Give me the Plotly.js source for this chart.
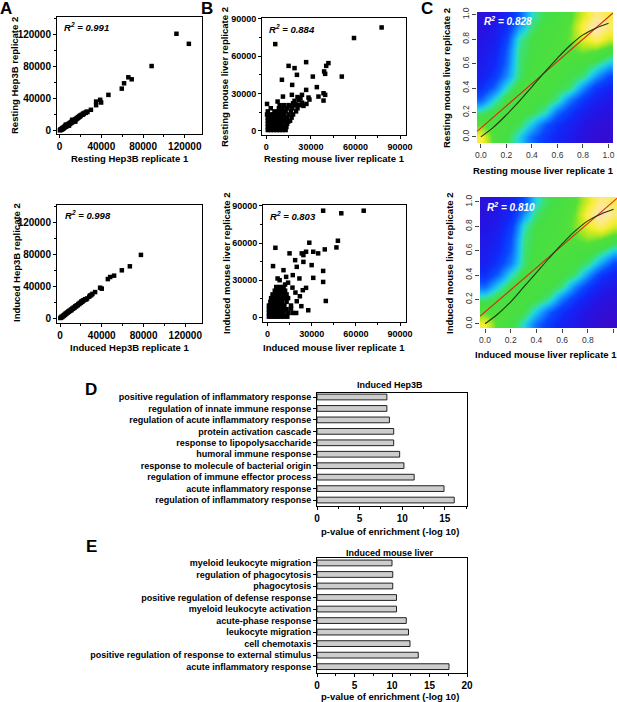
<!DOCTYPE html>
<html>
<head>
<meta charset="utf-8">
<script src="https://cdn.plot.ly/plotly-3.0.1.min.js"></script>
<style>
  body { margin: 0; background: #fff; }
  #chart { width: 617px; height: 702px; }
</style>
</head>
<body>
<div id="chart"></div>
<script>
// ---- values ----

// A: Hep3B replicate scatter (x = replicate 1, y = replicate 2)
var hepRestPts = [
  [112000,121000],[123900,108400],[88200,80600],[65900,66500],[69100,64000],[61800,59000],
  [59600,52300],[46800,44500],[38900,38300],[39800,34900],[35000,36100],[35000,31600],[30000,25800],
  [300,200],[800,1200],[1200,500],[1500,1800],[2000,1100],[2500,2600],[3000,1800],[3300,3500],
  [4000,2700],[4300,4500],[5000,3800],[5300,5600],[6000,4600],[6000,7300],[6600,6200],[7000,5400],
  [7600,7200],[8000,6300],[8600,8200],[9000,7400],[9000,6000],[9600,9100],[10000,8300],[10600,10000],
  [11000,9200],[11600,11000],[12000,10000],[12000,13300],[12600,11800],[13000,11000],[13600,12600],
  [14000,12000],[14600,13500],[15000,13000],[15000,11000],[15600,14500],[16000,14000],[16600,15500],
  [17000,15000],[17600,16500],[18000,16000],[18600,17500],[19000,17000],[19600,18500],[20000,18000],
  [21000,19600],[22000,19500],[22500,21000],[23000,20500],[24000,22000],[25000,22000],[26000,23500],[26700,23000]
];
var hepIndPts = [
  [77500,79300],[66900,65000],[59200,60000],[51800,53300],[48000,51600],[45800,49000],
  [38400,38200],[40000,37000],[33600,32700],[31000,30500],[30000,29000],[28800,28500],[28000,27000],
  [300,300],[1000,600],[1500,1800],[2200,1500],[2800,3000],[3500,2800],[4000,4200],[4800,4200],
  [5200,5600],[6000,5500],[6500,6800],[7200,6800],[7800,8200],[8500,8000],[9000,9300],[9800,9200],
  [10500,10800],[11000,10200],[11800,12000],[12500,11800],[13000,13200],[14000,13300],[14500,14800],
  [15500,14800],[16000,16200],[17000,16300],[17500,17800],[18500,17800],[19000,19200],[20000,19300],
  [20500,21000],[21500,20800],[22000,22300],[23000,22500],[24000,23800],[25000,23500],[26000,24800]
];

// B: mouse liver replicate scatter
var livRestPts = [
  [77600,83000],[59000,74500],[6000,69600],[41800,54300],[40300,52100],[38900,47600],[39600,45700],
  [26800,55100],[15000,52100],[19000,50300],[20600,44900],[50800,43500],[31300,43500],[10500,40900],
  [34000,35000],[26800,32800],[17400,36800],[17200,28800],[24000,28800],[38500,30100],[39600,28800],
  [38500,24200],[35100,27400],[28400,26600],[25000,19900],[11200,27400],[7600,23400],[500,21500],
  [22000,24500],[29000,25000],[21000,27000],[27000,21500],[24000,22500],[19000,24000],[20000,21000],
  [23000,26000],[18000,22000],[16000,19500],[14800,7300],
  [1000,500],[3000,500],[5000,500],[7000,500],[9000,500],[11000,500],[13000,500],
  [1000,3000],[3000,3000],[5000,3000],[7000,3000],[9000,3000],[11000,3000],[13500,3000],
  [1000,5500],[3000,5500],[5000,5500],[7000,5500],[9000,5500],[11000,5500],[14000,5500],
  [1000,8000],[3000,8000],[5000,8000],[7000,8000],[9000,8000],[11000,8000],[13000,8000],[16000,8000],
  [1000,10500],[3000,10500],[5000,10500],[7000,10500],[9000,10500],[11500,10500],[14000,10500],[17000,10500],
  [500,13000],[2500,13000],[4500,13000],[7000,13000],[9500,13000],[12000,13000],[15000,13000],[18000,13000],
  [1000,15500],[5500,15500],[8000,15500],[10500,15500],[13000,15500],[16500,15500],[20000,15500],
  [3000,18000],[8500,18000],[11000,18000],[14000,18000],[17500,18000],[21000,18000],
  [9000,20500],[12000,20500],[15000,20500],[19000,20500],[22500,20500]
];
var livIndPts = [
  [37800,86200],[50100,84100],[65300,86200],[47800,61900],[46800,56500],[38900,54900],[28400,60300],
  [31100,53000],[34400,51700],[26200,53000],[23300,51700],[24400,50300],[15000,51700],[5400,56200],
  [3800,41400],[18800,46200],[24400,44800],[19900,40800],[30000,42200],[31100,31900],[37800,28600],
  [37800,37500],[21700,31400],[26200,23800],[24000,21900],[17200,34100],[12700,32700],[10900,38100],
  [19900,13000],[39600,13200],[27700,5700],[8300,30000],[6900,31400],[17000,24000],[14000,28000],
  [12000,26500],[19000,20000],[22000,17000],[16000,7000],[19500,3500],[23000,9000],
  [1000,500],[3000,500],[5000,500],[7000,500],[9000,500],[11000,500],[13500,500],
  [1000,3500],[3000,3500],[5000,3500],[7000,3500],[9000,3500],[11000,3500],[14000,3500],[17000,3500],
  [1000,6500],[3000,6500],[5000,6500],[7000,6500],[9000,6500],[11000,6500],[13000,6500],
  [1000,9500],[3000,9500],[5000,9500],[7000,9500],[9000,9500],[11500,9500],[16000,9500],
  [2000,12500],[4000,12500],[6000,12500],[8000,12500],[10000,12500],[13000,12500],
  [2500,15500],[5000,15500],[7000,15500],[9000,15500],[11500,15500],[14000,15500],
  [3500,18500],[6000,18500],[8000,18500],[10500,18500],[13000,18500],
  [5000,21500],[7500,21500],[9500,21500],[12000,21500],
  [6000,24500],[8500,24500],[11000,24500]
];

// C: smoothed density (rows: y = 0 .. 1, columns: x = 0 .. 1)
var densGrid = [0, 0.1, 0.2, 0.3, 0.4, 0.5, 0.6, 0.7, 0.8, 0.9, 1.0];
var cRestDensity = [
  [8.0, 6.0, 5.4, 4.4, 3.2, 2.4, 1.8, 1.3, 0.8, 0.4, 0.3],
  [6.3, 6.0, 5.7, 5.2, 4.2, 3.0, 2.2, 1.6, 1.0, 0.6, 0.5],
  [4.9, 5.5, 5.8, 5.6, 5.3, 4.7, 3.3, 2.4, 1.6, 1.0, 0.8],
  [3.2, 4.5, 5.5, 5.8, 5.7, 5.4, 4.8, 3.4, 2.4, 1.6, 1.2],
  [2.2, 3.2, 4.6, 5.6, 5.9, 5.7, 5.4, 5.0, 3.6, 2.4, 1.8],
  [1.6, 2.4, 3.6, 5.0, 5.8, 5.9, 5.7, 5.4, 5.0, 3.8, 2.8],
  [1.4, 2.0, 3.2, 5.0, 5.6, 5.9, 5.9, 5.7, 5.5, 5.0, 4.2],
  [1.2, 1.7, 3.0, 4.9, 5.5, 5.8, 6.0, 6.2, 6.6, 6.3, 5.6],
  [1.0, 1.4, 2.6, 4.7, 5.4, 5.7, 5.9, 6.5, 7.6, 8.3, 7.4],
  [0.8, 1.2, 2.1, 3.8, 5.0, 5.6, 5.8, 6.4, 8.1, 9.3, 8.4],
  [0.7, 1.0, 1.7, 3.0, 4.6, 5.3, 5.6, 6.1, 7.4, 8.6, 8.0]
];
var cIndDensity = [
  [7.8, 6.0, 5.5, 4.5, 3.3, 2.4, 1.7, 1.2, 0.7, 0.3, 0.2],
  [6.2, 6.0, 5.8, 5.3, 4.3, 3.1, 2.2, 1.5, 0.9, 0.5, 0.4],
  [5.0, 5.5, 5.8, 5.7, 5.4, 4.8, 3.4, 2.4, 1.5, 0.9, 0.7],
  [3.3, 4.5, 5.5, 5.8, 5.8, 5.5, 4.9, 3.5, 2.4, 1.5, 1.1],
  [2.2, 3.2, 4.6, 5.6, 5.9, 5.8, 5.5, 5.0, 3.7, 2.4, 1.7],
  [1.6, 2.4, 3.5, 5.0, 5.8, 5.9, 5.7, 5.5, 5.0, 3.9, 2.8],
  [1.4, 2.0, 3.1, 5.0, 5.6, 5.9, 5.9, 5.7, 5.6, 5.1, 4.3],
  [1.2, 1.7, 2.9, 4.9, 5.5, 5.8, 6.0, 6.3, 6.7, 6.4, 5.7],
  [1.0, 1.4, 2.5, 4.6, 5.4, 5.7, 5.9, 6.6, 7.7, 8.4, 7.5],
  [0.8, 1.2, 2.0, 3.7, 5.0, 5.6, 5.8, 6.5, 8.2, 9.3, 8.5],
  [0.7, 1.0, 1.6, 2.9, 4.5, 5.3, 5.6, 6.2, 7.5, 8.7, 8.1]
];
var cRestFitX = [-0.03, 1.035];
var cRestFitY = [0.045, 1.014];
var cRestCurveX = [0, 0.1, 0.2, 0.3, 0.4, 0.5, 0.6, 0.7, 0.8, 0.9, 1.0];
var cRestCurveY = [0.0, 0.08, 0.18, 0.29, 0.41, 0.53, 0.645, 0.75, 0.835, 0.89, 0.93];
var cIndFitX = [-0.04, 1.027];
var cIndFitY = [0.06, 1.03];
var cIndCurveX = [0, 0.1, 0.2, 0.3, 0.4, 0.5, 0.6, 0.7, 0.8, 0.9, 1.0];
var cIndCurveY = [0.0, 0.08, 0.18, 0.30, 0.42, 0.54, 0.655, 0.76, 0.845, 0.90, 0.94];

// D / E: GO enrichment, listed top to bottom
var hepTerms = ['positive regulation of inflammatory response', 'regulation of innate immune response',
  'regulation of acute inflammatory response', 'protein activation cascade', 'response to lipopolysaccharide',
  'humoral immune response', 'response to molecule of bacterial origin', 'regulation of immune effector process',
  'acute inflammatory response', 'regulation of inflammatory response'];
var hepScores = [8.2, 8.2, 8.5, 9.0, 9.0, 9.7, 10.2, 11.4, 14.9, 16.1];
var livTerms = ['myeloid leukocyte migration', 'regulation of phagocytosis', 'phagocytosis',
  'positive regulation of defense response', 'myeloid leukocyte activation', 'acute-phase response',
  'leukocyte migration', 'cell chemotaxis', 'positive regulation of response to external stimulus',
  'acute inflammatory response'];
var livScores = [10.0, 10.1, 10.1, 10.6, 10.6, 11.9, 12.2, 12.4, 13.5, 17.6];

// ---- layout helpers ----
var W = 617, H = 702;
var FONT = 'Liberation Sans, Arial, sans-serif';
function fx(p) { return p / W; }
function fy(p) { return 1 - p / H; }
function xs(pts) { return pts.map(function (p) { return p[0]; }); }
function ys(pts) { return pts.map(function (p) { return p[1]; }); }

function originAxis(dom, range, dtick, anchor, size) {
  return {
    domain: dom, range: range, anchor: anchor, dtick: dtick, tick0: 0, tickformat: 'd',
    showgrid: false, zeroline: false, showline: true, mirror: true, linecolor: '#000', linewidth: 1,
    ticks: 'outside', ticklen: 3, tickwidth: 1, tickcolor: '#000',
    tickfont: {family: FONT, size: size, weight: 'bold', color: '#000'},
    minor: {dtick: dtick / 2, ticks: 'outside', ticklen: 2, tickcolor: '#000'}
  };
}
function rAxis(dom, range, anchor, angle) {
  return {
    domain: dom, range: range, anchor: anchor, dtick: 0.2, tick0: 0, tickformat: '.1f',
    showgrid: false, zeroline: false, showline: false,
    ticks: 'outside', ticklen: 4, tickcolor: '#444', tickangle: angle,
    tickfont: {family: FONT, size: 8.5, color: '#333'}
  };
}
function goXAxis(dom, range, anchor) {
  return {
    domain: dom, range: range, anchor: anchor, dtick: 5, tick0: 0,
    showgrid: false, zeroline: false, showline: true, mirror: true, linecolor: '#000', linewidth: 1,
    ticks: 'outside', ticklen: 3, tickcolor: '#000',
    tickfont: {family: FONT, size: 10, weight: 'bold', color: '#000'},
    minor: {dtick: 2.5, ticks: 'outside', ticklen: 2, tickcolor: '#000'}
  };
}
function goYAxis(dom, range, anchor) {
  return {
    domain: dom, range: range, anchor: anchor, type: 'category',
    showgrid: false, zeroline: false, showline: true, mirror: true, linecolor: '#000', linewidth: 1,
    ticks: 'outside', ticklen: 3, tickcolor: '#000',
    tickfont: {family: FONT, size: 9, weight: 'bold', color: '#000'}
  };
}

function dots(pts, xa, ya) {
  return {type: 'scatter', mode: 'markers', x: xs(pts), y: ys(pts), xaxis: xa, yaxis: ya,
    marker: {symbol: 'square', size: 4.5, color: '#000'}, hoverinfo: 'skip'};
}

var densColors = [
  [0.00, '#3C08C8'], [0.10, '#2414E4'], [0.20, '#1028F8'], [0.28, '#0848FF'],
  [0.35, '#1080FF'], [0.41, '#18B8F4'], [0.46, '#28DCC8'], [0.50, '#3CE070'],
  [0.54, '#44DE44'], [0.63, '#52E03A'], [0.70, '#B0E820'], [0.78, '#F4EE30'],
  [0.88, '#FFE898'], [1.00, '#FFD4C0']
];
function density(z, xa, ya) {
  return {type: 'heatmap', x: densGrid, y: densGrid, z: z, zmin: 0, zmax: 10, zsmooth: 'best',
    colorscale: densColors, showscale: false, xaxis: xa, yaxis: ya, hoverinfo: 'skip'};
}
function line(x, y, color, xa, ya, shape) {
  return {type: 'scatter', mode: 'lines', x: x, y: y, xaxis: xa, yaxis: ya,
    line: {color: color, width: 1.1, shape: shape}, hoverinfo: 'skip'};
}
function goBars(terms, scores, xa, ya) {
  return {type: 'bar', orientation: 'h', x: scores, y: terms, xaxis: xa, yaxis: ya, width: 0.5,
    marker: {color: '#CDCDCD', line: {color: '#222', width: 1}}, hoverinfo: 'skip'};
}

var traces = [
  dots(hepRestPts, 'x', 'y'),
  dots(hepIndPts, 'x2', 'y2'),
  dots(livRestPts, 'x3', 'y3'),
  dots(livIndPts, 'x4', 'y4'),
  density(cRestDensity, 'x5', 'y5'),
  line(cRestFitX, cRestFitY, '#D42A1A', 'x5', 'y5', 'linear'),
  line(cRestCurveX, cRestCurveY, '#1E3414', 'x5', 'y5', 'spline'),
  density(cIndDensity, 'x6', 'y6'),
  line(cIndFitX, cIndFitY, '#D42A1A', 'x6', 'y6', 'linear'),
  line(cIndCurveX, cIndCurveY, '#1E3414', 'x6', 'y6', 'spline'),
  goBars(hepTerms, hepScores, 'x7', 'y7'),
  goBars(livTerms, livScores, 'x8', 'y8')
];

function note(text, x, y, size, opts) {
  var a = {text: text, xref: 'paper', yref: 'paper', x: fx(x), y: fy(y), showarrow: false,
    xanchor: 'center', yanchor: 'middle',
    font: {family: FONT, size: size, weight: 'bold', color: '#000'}};
  for (var k in opts) { a[k] = opts[k]; }
  return a;
}
var white = {family: FONT, size: 10, weight: 'bold', color: '#fff'};
var up = {textangle: -90};

var annotations = [
  note('A', 6, 9, 17), note('B', 207, 9, 17), note('C', 427, 9, 17),
  note('D', 91, 389, 17), note('E', 91, 546, 17),
  note('<i>R<sup>2</sup> = 0.991</i>', 62, 27, 9.5, {xanchor: 'left'}),
  note('<i>R<sup>2</sup> = 0.998</i>', 63, 215, 9.5, {xanchor: 'left'}),
  note('<i>R<sup>2</sup> = 0.884</i>', 267, 29, 9.5, {xanchor: 'left'}),
  note('<i>R<sup>2</sup> = 0.803</i>', 268, 216, 9.5, {xanchor: 'left'}),
  note('<i>R<sup>2</sup> = 0.828</i>', 482, 21, 10, {xanchor: 'left', font: white}),
  note('<i>R<sup>2</sup> = 0.810</i>', 485, 207, 10, {xanchor: 'left', font: white}),
  note('Resting Hep3B replicate 1', 130, 159, 9.5),
  note('Induced Hep3B replicate 1', 130, 347, 9.5),
  note('Resting mouse liver replicate 1', 334, 159, 9.5),
  note('Induced mouse liver replicate 1', 334, 347, 9.5),
  note('Resting mouse liver replicate 1', 543, 170, 9.5),
  note('Induced mouse liver replicate 1', 546, 354, 9.5),
  note('Resting Hep3B replicate 2', 15, 76, 9.5, up),
  note('Induced Hep3B replicate 2', 16, 263, 9.5, up),
  note('Resting mouse liver replicate 2', 224, 77, 9.5, up),
  note('Induced mouse liver replicate 2', 226, 263, 9.5, up),
  note('Resting mouse liver replicate 2', 446, 78, 9.5, up),
  note('Induced mouse liver replicate 2', 449, 263, 9.5, up),
  note('Induced Hep3B', 390, 385, 9),
  note('p-value of enrichment (-log 10)', 390, 531, 9.5),
  note('Induced mouse liver', 390, 553, 9),
  note('p-value of enrichment (-log 10)', 390, 696, 9.5)
];

var layout = {
  width: W, height: H, margin: {l: 0, r: 0, t: 0, b: 0},
  paper_bgcolor: '#fff', plot_bgcolor: '#fff', showlegend: false,
  font: {family: FONT, color: '#000'},
  xaxis: originAxis([fx(57), fx(202)], [-2500, 136500], 40000, 'y', 10),
  yaxis: originAxis([fy(134), fy(17)], [-4500, 142000], 40000, 'x', 10),
  xaxis2: originAxis([fx(57), fx(202)], [-2900, 136000], 40000, 'y2', 10),
  yaxis2: originAxis([fy(323), fy(205)], [-6000, 141800], 40000, 'x2', 10),
  xaxis3: originAxis([fx(262), fx(406)], [-2900, 94000], 30000, 'y3', 9),
  yaxis3: originAxis([fy(135), fy(18)], [-3500, 90600], 30000, 'x3', 9),
  xaxis4: originAxis([fx(263), fx(406)], [-3000, 94000], 30000, 'y4', 9),
  yaxis4: originAxis([fy(322), fy(205)], [-3800, 90800], 30000, 'x4', 9),
  xaxis5: rAxis([fx(477), fx(613)], [-0.03, 1.035], 'y5', 0),
  yaxis5: rAxis([fy(143), fy(12)], [-0.05, 1.022], 'x5', -90),
  xaxis6: rAxis([fx(480), fx(617)], [-0.039, 1.027], 'y6', 0),
  yaxis6: rAxis([fy(328), fy(197)], [-0.035, 1.041], 'x6', -90),
  xaxis7: goXAxis([fx(317), fx(467)], [0, 17.6], 'y7'),
  yaxis7: goYAxis([fy(506), fy(393)], [9.52, -0.35], 'x7'),
  xaxis8: goXAxis([fx(317), fx(467)], [0, 20], 'y8'),
  yaxis8: goYAxis([fy(673), fy(558)], [9.55, -0.43], 'x8'),
  annotations: annotations
};

Plotly.newPlot('chart', traces, layout, {staticPlot: true});
</script>
</body>
</html>
